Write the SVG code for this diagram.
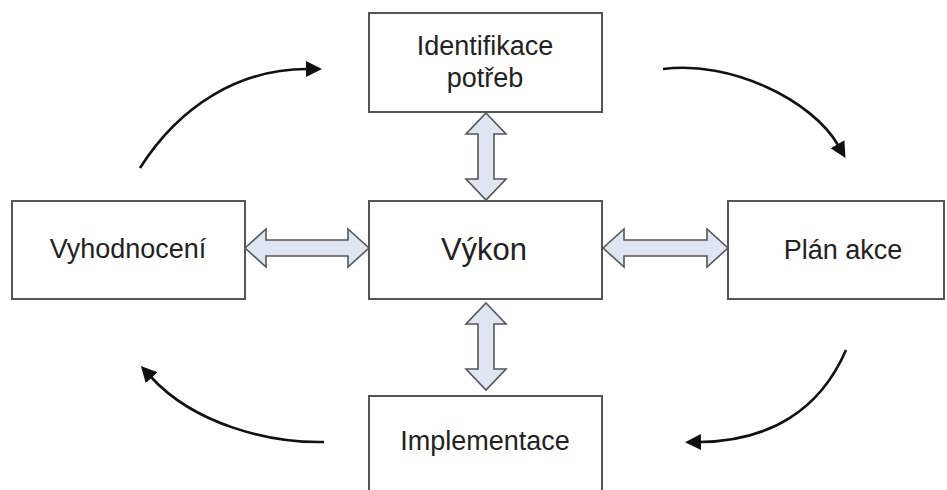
<svg xmlns="http://www.w3.org/2000/svg" width="947" height="490" viewBox="0 0 947 490">
<style>
.box{fill:#fff;stroke:#555;stroke-width:2}
.lbl{font-family:"Liberation Sans",Arial,sans-serif;font-size:27px;fill:#222;text-anchor:middle}
.big{font-size:31px}
.dbl{fill:#dfe6f2;stroke:#555;stroke-width:1.6;stroke-linejoin:miter}
.cyc{fill:none;stroke:#111;stroke-width:2.6;marker-end:url(#ah)}
</style>
<defs>
<marker id="ah" viewBox="0 0 16 16" refX="1" refY="8" markerWidth="16" markerHeight="16" markerUnits="userSpaceOnUse" orient="auto">
<path d="M0,0 L16,8 L0,16 Z" fill="#111"/>
</marker>
</defs>
<rect width="947" height="490" fill="#fff"/>
<g id="identifikace">
<rect class="box" x="369" y="13" width="233" height="99"/>
<text class="lbl" x="485" y="55">Identifikace</text>
<text class="lbl" x="485" y="87">potřeb</text>
</g>
<g id="vykon">
<rect class="box" x="369" y="201" width="233" height="98"/>
<text class="lbl big" x="484" y="260">Výkon</text>
</g>
<g id="vyhodnoceni">
<rect class="box" x="12" y="201" width="233" height="98"/>
<text class="lbl" x="128" y="258">Vyhodnocení</text>
</g>
<g id="plan">
<rect class="box" x="728" y="201" width="216" height="98"/>
<text class="lbl" x="843" y="259">Plán akce</text>
</g>
<g id="implementace">
<rect class="box" x="369" y="396" width="233" height="110"/>
<text class="lbl" x="485" y="450">Implementace</text>
</g>
<g id="connectors">
<path class="dbl" d="M245,248 L266,229 L266,240 L348,240 L348,229 L369,248 L348,267 L348,256 L266,256 L266,267 Z"/>
<path class="dbl" d="M603,248 L624,229 L624,240 L707,240 L707,229 L728,248 L707,267 L707,256 L624,256 L624,267 Z"/>
<path class="dbl" d="M486,113 L506,134 L494,134 L494,179 L506,179 L486,200 L466,179 L478,179 L478,134 L466,134 Z"/>
<path class="dbl" d="M486,303 L506,324 L494,324 L494,369 L506,369 L486,390 L466,369 L478,369 L478,324 L466,324 Z"/>
<path class="cyc" d="M140,168 C180,105 240,69 307,69"/>
<path class="cyc" d="M663,69 C730,60 812,100 838,145"/>
<path class="cyc" d="M846,350 C820,410 770,441 700,442"/>
<path class="cyc" d="M324,442 C270,443 195,425 151,377"/>
</g>
</svg>
